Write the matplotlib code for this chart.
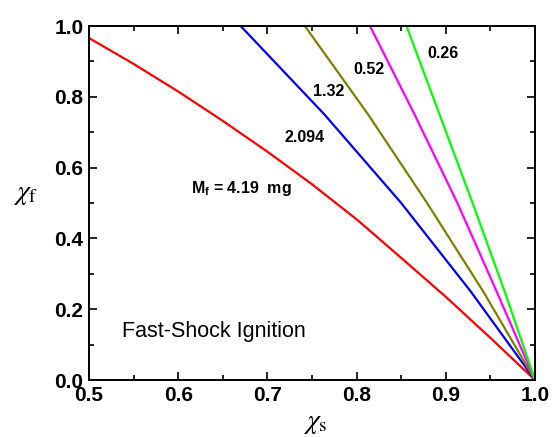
import numpy as np
import matplotlib
matplotlib.use("Agg")
import matplotlib.pyplot as plt
from matplotlib.ticker import MultipleLocator, FormatStrFormatter

plt.rcParams['font.family'] = ['Liberation Sans', 'DejaVu Sans']
plt.rcParams['mathtext.fontset'] = 'custom'
plt.rcParams['mathtext.rm'] = 'Liberation Sans'
plt.rcParams['mathtext.bf'] = 'Liberation Sans:bold'

# red curve (M_f = 4.19 mg), read as y at given x
red_x = [0.5, 0.55, 0.6, 0.65, 0.7, 0.75, 0.8, 0.85, 0.9, 0.95, 1.0]
red_y = [0.966, 0.893, 0.815, 0.732, 0.645, 0.553, 0.454, 0.345, 0.235, 0.119, 0.0]

# other curves, read as x at given y levels
levels = [1.0, 0.75, 0.5, 0.25, 0.0]
blue_x = [0.670, 0.764, 0.850, 0.928, 1.0]     # 2.094
olive_x = [0.742, 0.813, 0.879, 0.942, 1.0]    # 1.32
magenta_x = [0.815, 0.865, 0.913, 0.957, 1.0]  # 0.52
green_x = [0.856, 0.893, 0.930, 0.966, 1.0]    # 0.26

fig = plt.figure(figsize=(5.52, 4.37), dpi=100)
ax = fig.add_axes([0.1612, 0.1304, 0.808, 0.8101])

lw = 1.6
ax.plot(red_x, red_y, color='#ff0000', lw=lw)
ax.plot(blue_x, levels, color='#0000ff', lw=lw)
ax.plot(olive_x, levels, color='#808000', lw=lw)
ax.plot(magenta_x, levels, color='#ff00ff', lw=lw)
ax.plot(green_x, levels, color='#00ff00', lw=lw)

ax.set_xlim(0.5, 1.0)
ax.set_ylim(0.0, 1.0)
ax.xaxis.set_major_locator(MultipleLocator(0.1))
ax.xaxis.set_minor_locator(MultipleLocator(0.05))
ax.yaxis.set_major_locator(MultipleLocator(0.2))
ax.yaxis.set_minor_locator(MultipleLocator(0.1))
ax.xaxis.set_major_formatter(FormatStrFormatter('%.1f'))
ax.yaxis.set_major_formatter(FormatStrFormatter('%.1f'))
ax.tick_params(which='both', direction='in', top=True, right=True, width=1.2)
ax.tick_params(which='major', length=6, labelsize=15)
ax.tick_params(axis='x', which='major', pad=4)
ax.tick_params(axis='y', which='major', pad=4)
ax.tick_params(which='minor', length=3.5)
for lab in ax.get_xticklabels() + ax.get_yticklabels():
    lab.set_fontweight('bold')
for s in ax.spines.values():
    s.set_linewidth(1.4)

fig.text(0.571, 0.032, r'$\chi_{\mathrm{s}}$', fontsize=20, ha='center', va='center',
         math_fontfamily='stix')
fig.text(0.047, 0.555, r'$\chi_{\mathrm{f}}$', fontsize=20, ha='center', va='center',
         math_fontfamily='stix')

lab_kw = dict(fontsize=11.5, fontweight='bold', ha='center', va='center')
ax.text(0.897, 0.921, '0.26', **lab_kw)
ax.text(0.814, 0.876, '0.52', **lab_kw)
ax.text(0.769, 0.816, '1.32', **lab_kw)
ax.text(0.742, 0.684, '2.094', **lab_kw)
ax.text(0.614, 0.542, r'M$_{\mathbf{f}}$ = 4.19  mg', fontsize=11.5, fontweight='bold',
        ha='left', va='center')
ax.text(0.537, 0.136, 'Fast-Shock Ignition', fontsize=15.5, ha='left', va='center')

fig.savefig('out.png', dpi=100)
